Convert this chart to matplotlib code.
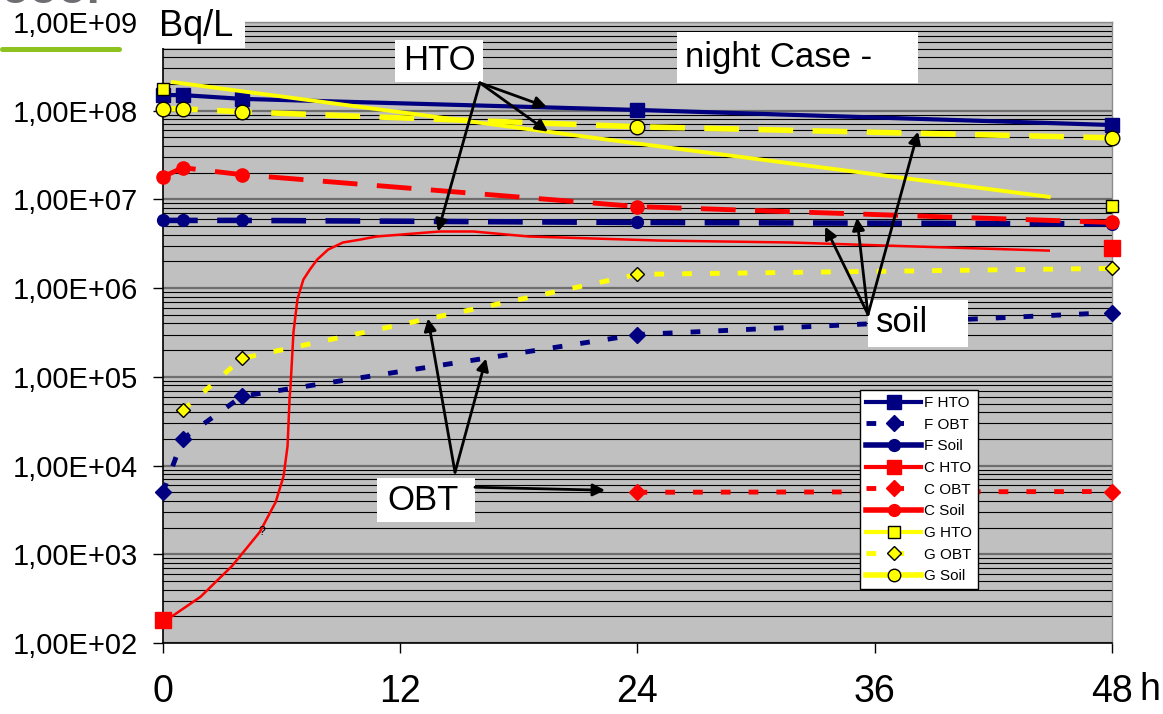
import numpy as np
import matplotlib.pyplot as plt
from matplotlib.lines import Line2D
from matplotlib.patches import Rectangle
from matplotlib.ticker import LogLocator, FuncFormatter, NullFormatter

plt.rcParams['font.family'] = ['Liberation Sans', 'DejaVu Sans']
plt.rcParams['lines.scale_dashes'] = False

# measured points (h, Bq/L)
t_meas = [0, 1, 4, 24, 48]
f_hto = [1.5e8, 1.5e8, 1.36e8, 1.02e8, 6.9e7]
f_obt = [5.0e3, 2.0e4, 6.05e4, 3.0e5, 5.3e5]
f_soil = [5.8e6, 5.8e6, 5.8e6, 5.5e6, 5.3e6]

c_hto_t = [0, 48]
c_hto = [183, 2.8e6]
c_obt_t = [24, 48]
c_obt = [5.0e3, 5.1e3]
c_soil = [1.8e7, 2.28e7, 1.9e7, 8.3e6, 5.5e6]

g_hto_t = [0, 48]
g_hto = [1.76e8, 8.5e6]
g_obt_t = [1, 4, 24, 48]
g_obt = [4.2e4, 1.62e5, 1.43e6, 1.67e6]
g_soil = [1.05e8, 1.05e8, 9.7e7, 6.6e7, 4.95e7]

# thin model curves
c_model_t = [0.5, 1.9, 3.5, 4.9, 5.7, 6.1, 6.3, 6.4, 6.45, 6.6, 6.8, 7.1, 7.43,
             7.8, 8.35, 9.1, 9.96, 10.8, 14.0, 15.7, 18.5, 25.1, 31.7, 38.2, 44.8]
c_model = [203, 332, 741, 1790, 3880, 7620, 16600, 56000, 78000, 3.2e5, 7.5e5,
           1.25e6, 1.62e6, 2.1e6, 2.72e6, 3.27e6, 3.52e6, 3.82e6, 4.35e6, 4.35e6,
           3.82e6, 3.44e6, 3.27e6, 2.94e6, 2.65e6]
g_model_t = [0.5, 23.7, 44.8]
g_model = [2.1e8, 4.35e7, 1.07e7]

xticks = [0, 12, 24, 36, 48]
yticks = [1e2, 1e3, 1e4, 1e5, 1e6, 1e7, 1e8, 1e9]

navy = '#000080'
red = '#FF0000'
yel = '#FFFF00'
long_dash = (25, 14)
short_dash = (7, 13)

W, H = 1163, 714
def fx(px):
    return px / W
def fy(py):
    return 1 - py / H

fig = plt.figure(figsize=(W / 100, H / 100), dpi=100)
ax = fig.add_axes([fx(163), fy(643), fx(1112) - fx(163), fy(22) - fy(643)])
ax.set_facecolor('#C0C0C0')
ax.set_yscale('log')
ax.set_xlim(0, 48)
ax.set_ylim(1e2, 1e9)

ax.yaxis.set_minor_locator(LogLocator(base=10, subs=range(2, 10)))
ax.yaxis.set_minor_formatter(NullFormatter())
ax.set_yticks(yticks)
ax.yaxis.set_major_formatter(FuncFormatter(lambda v, _: '1,00E+%02d' % round(np.log10(v))))
ax.set_xticks(xticks)
ax.grid(which='minor', axis='y', color='black', lw=0.8)
ax.grid(which='major', axis='y', color='#6E6E6E', lw=1.6)
ax.tick_params(axis='y', which='major', direction='out', length=7, width=1, pad=11, labelsize=21)
ax.tick_params(axis='y', which='minor', length=0)
ax.tick_params(axis='x', direction='out', length=7, width=1, pad=15, labelsize=27)
for s in ['left', 'bottom']:
    ax.spines[s].set_color('black')
    ax.spines[s].set_linewidth(1.2)
for s in ['top', 'right']:
    ax.spines[s].set_color('#8C8C8C')
    ax.spines[s].set_linewidth(1)

kw = dict(clip_on=False)
# F series
ax.plot(t_meas, f_hto, color=navy, lw=3, marker='s', ms=9.5, mec=navy, zorder=3, **kw)
ax.plot(t_meas, f_obt, color=navy, lw=3.5, dashes=short_dash, marker='D', ms=8.5, mec=navy, zorder=3, **kw)
ax.plot(t_meas, f_soil, color=navy, lw=4, dashes=long_dash, marker='o', ms=8.5, mec=navy, zorder=3, **kw)
# C series
ax.plot(c_model_t, c_model, color=red, lw=1.8, zorder=3.1)
ax.plot(c_hto_t, c_hto, ls='none', color=red, marker='s', ms=12, mec=red, zorder=3.1, **kw)
ax.plot(c_obt_t, c_obt, color=red, lw=3.5, dashes=short_dash, marker='D', ms=8.5, mec=red, zorder=3.1, **kw)
ax.plot(t_meas, c_soil, color=red, lw=3.5, dashes=long_dash, marker='o', ms=9.5, mec=red, zorder=3.1, **kw)
# G series
ax.plot(g_model_t, g_model, color=yel, lw=2.8, zorder=3.2)
ax.plot(g_hto_t, g_hto, ls='none', marker='s', ms=9, mfc=yel, mec='black', mew=1, zorder=3.2, **kw)
ax.plot(g_obt_t, g_obt, color=yel, lw=3.5, dashes=short_dash, marker='D', ms=7.5, mfc=yel, mec='black', mew=1, zorder=3.2, **kw)
ax.plot(t_meas, g_soil, color=yel, lw=4, dashes=long_dash, marker='o', ms=10.5, mfc=yel, mec='black', mew=1, zorder=3.2, **kw)

ax.text(5.0, 1.77e3, '?', fontsize=9, ha='center', va='center', zorder=4)

# white label boxes
def box(x0, y0, x1, y1):
    ax.add_patch(Rectangle((fx(x0), fy(y1)), fx(x1) - fx(x0), fy(y0) - fy(y1),
                           transform=fig.transFigure, facecolor='white', edgecolor='none',
                           zorder=5, clip_on=False))

box(150, 0, 245, 48)
box(395, 40, 483, 82)
box(677, 32, 918, 83)
box(868, 300, 968, 347)
box(377, 478, 475, 522)

fig.text(fx(196), fy(27), 'Bq/L', fontsize=26, ha='center', va='center', zorder=10)
ax.text(fx(439), fy(61), 'HTO', fontsize=25, ha='center', va='center', transform=fig.transFigure, zorder=7)
ax.text(fx(685), fy(57), 'night Case -', fontsize=25, ha='left', va='center', transform=fig.transFigure, zorder=7)
ax.text(fx(876), fy(323), 'soil', fontsize=25, ha='left', va='center', transform=fig.transFigure, zorder=7)
ax.text(fx(423), fy(500), 'OBT', fontsize=25, ha='center', va='center', transform=fig.transFigure, zorder=7)
fig.text(fx(1150), fy(690), 'h', fontsize=27, ha='center', va='center')

arr = dict(arrowstyle='-|>', color='black', lw=2, mutation_scale=18, shrinkA=0, shrinkB=0)
for xy in [(19.42, 1.1e8), (19.47, 5.8e7), (13.91, 4.34e6)]:
    ax.annotate('', xy=xy, xytext=(16.03, 2.06e8), arrowprops=arr, zorder=6)
for xy in [(33.49, 4.93e6), (35.1, 6.2e6), (38.19, 5.8e7)]:
    ax.annotate('', xy=xy, xytext=(35.66, 5.05e5), arrowprops=arr, zorder=6)
for xy in [(13.4, 4.55e5), (16.34, 1.61e5)]:
    ax.annotate('', xy=xy, xytext=(14.77, 8.4e3), arrowprops=arr, zorder=6)
ax.annotate('', xy=(22.36, 5.27e3), xytext=(15.78, 5.7e3), arrowprops=arr, zorder=6)

# legend
handles = [
    Line2D([], [], color=navy, lw=3, marker='s', ms=9.5, mec=navy),
    Line2D([], [], color=navy, lw=3.5, dashes=short_dash, marker='D', ms=8.5, mec=navy),
    Line2D([], [], color=navy, lw=4, marker='o', ms=8.5, mec=navy),
    Line2D([], [], color=red, lw=3, marker='s', ms=9.5, mec=red),
    Line2D([], [], color=red, lw=3.5, dashes=short_dash, marker='D', ms=8.5, mec=red),
    Line2D([], [], color=red, lw=4, marker='o', ms=8.5, mec=red),
    Line2D([], [], color=yel, lw=3, marker='s', ms=9, mfc=yel, mec='black', mew=1),
    Line2D([], [], color=yel, lw=3.5, dashes=short_dash, marker='D', ms=7.5, mfc=yel, mec='black', mew=1),
    Line2D([], [], color=yel, lw=4, marker='o', ms=9, mfc=yel, mec='black', mew=1),
]
labels = ['F HTO', 'F OBT', 'F Soil', 'C HTO', 'C OBT', 'C Soil', 'G HTO', 'G OBT', 'G Soil']
leg = ax.legend(handles, labels, loc='upper left', bbox_to_anchor=(fx(860), fy(390)),
                bbox_transform=fig.transFigure, borderaxespad=0, fontsize=11,
                handlelength=3.6, handletextpad=0.2, labelspacing=0.5, borderpad=0.4,
                fancybox=False, framealpha=1, edgecolor='black', numpoints=1)
leg.get_frame().set_linewidth(1)
leg.set_zorder(10)

# slide decoration in the corner
fig.text(0.0, fy(3), 'ooo.', fontsize=34, fontweight='bold', color='#6D6E71', va='baseline')
fig.add_artist(Line2D([fx(2), fx(119)], [fy(49), fy(49)], color='#8DC21F', lw=3.6, solid_capstyle='round'))

fig.savefig('out.png', dpi=100)
